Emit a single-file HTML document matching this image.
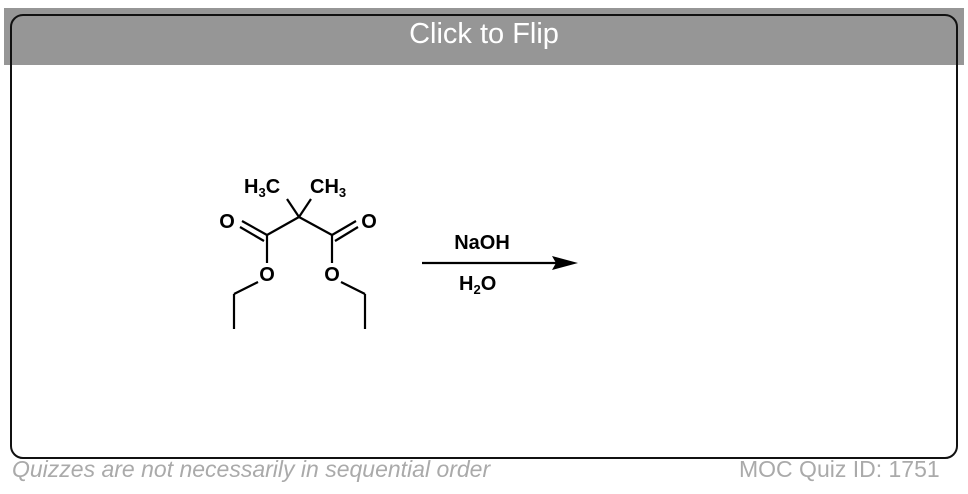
<!DOCTYPE html>
<html><head><style>
body{margin:0;width:968px;height:494px;background:#fff;position:relative;overflow:hidden;font-family:"Liberation Sans",sans-serif}
.band{position:absolute;left:4px;top:8px;width:960px;height:57px;background:#969696}
.box{position:absolute;left:10px;top:14px;width:944px;height:441px;border:2.5px solid #111;border-radius:13px}
.title{position:absolute;left:0;width:968px;top:18px;text-align:center;color:#fff;font-size:29px}
.l{position:absolute;top:456px;color:#aaa;font-size:23px;line-height:26px}
</style></head><body>
<div class="band"></div><div class="box"></div>
<div class="title">Click to Flip</div>
<svg width="968" height="494" style="position:absolute;left:0;top:0" font-family="Liberation Sans" font-weight="bold" font-size="20">
<g stroke="#000" stroke-width="2.2" fill="none">
<line x1="299" y1="217" x2="287" y2="199"/><line x1="299" y1="217" x2="311" y2="199"/>
<line x1="299" y1="217" x2="267" y2="235"/><line x1="299" y1="217" x2="332" y2="235"/>
<line x1="267" y1="235" x2="242" y2="221"/><line x1="264" y1="241" x2="240" y2="227"/>
<line x1="332" y1="235" x2="356" y2="221"/><line x1="335" y1="241" x2="358" y2="227"/>
<line x1="267" y1="235" x2="267" y2="263"/><line x1="332" y1="235" x2="332" y2="263"/>
<line x1="258" y1="282" x2="234" y2="294"/><line x1="234" y1="294" x2="234" y2="329"/>
<line x1="341" y1="282" x2="365" y2="294"/><line x1="365" y1="294" x2="365" y2="329"/>
<line x1="422" y1="263" x2="560" y2="263"/>
</g>
<polygon points="578,263 552,256 556,263 552,270" fill="#000"/>
<text x="244" y="193">H<tspan font-size="13" dy="4">3</tspan><tspan dy="-4">C</tspan></text>
<text x="310" y="193">CH<tspan font-size="13" dy="4">3</tspan></text>
<text x="227" y="228" text-anchor="middle">O</text>
<text x="369" y="228" text-anchor="middle">O</text>
<text x="267" y="281" text-anchor="middle">O</text>
<text x="332" y="281" text-anchor="middle">O</text>
<text x="482" y="249" text-anchor="middle">NaOH</text>
<text x="459" y="290">H<tspan font-size="13" dy="4">2</tspan><tspan dy="-4">O</tspan></text>
</svg>
<div class="l" style="left:12px;font-style:italic">Quizzes are not necessarily in sequential order</div>
<div class="l" style="left:739px">MOC Quiz ID: 1751</div>
</body></html>
